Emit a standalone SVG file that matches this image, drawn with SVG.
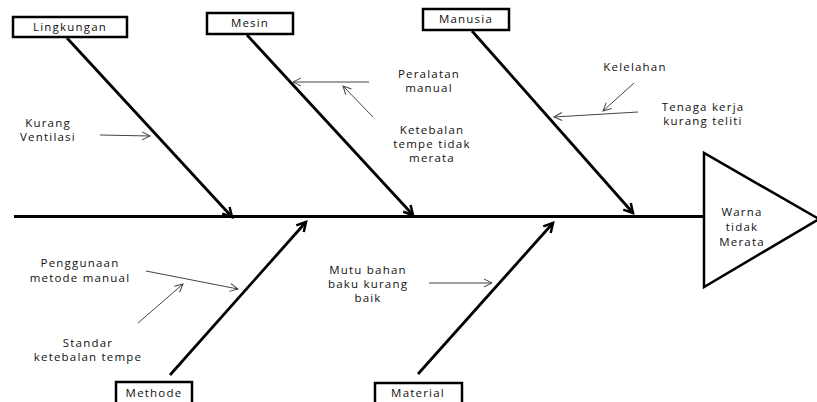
<svg xmlns="http://www.w3.org/2000/svg" width="817" height="402" viewBox="0 0 817 402">
<style>
.t{font-family:"Open Sans","Noto Sans",sans-serif;font-size:11.5px;letter-spacing:1.2px;fill:#111;text-anchor:middle}
.box{fill:#fff;stroke:#000;stroke-width:2.5}
.bone{stroke:#000;stroke-width:2.8;fill:none;marker-end:url(#hb)}
.thin{stroke:#444;stroke-width:1;fill:none;marker-end:url(#ht)}
</style>
<defs>
<marker id="hb" markerUnits="userSpaceOnUse" markerWidth="20" markerHeight="20" refX="0" refY="0" orient="auto" overflow="visible" viewBox="-12 -10 20 20">
<path d="M-9,-5 L0,0 L-9,5" fill="none" stroke="#000" stroke-width="2.5"/>
</marker>
<marker id="ht" markerUnits="userSpaceOnUse" markerWidth="20" markerHeight="20" refX="0" refY="0" orient="auto" overflow="visible" viewBox="-12 -10 20 20">
<path d="M-8,-4 L0,0 L-8,4" fill="none" stroke="#444" stroke-width="1"/>
</marker>
</defs>
<rect width="817" height="402" fill="#fff"/>
<g id="connectors">
<line x1="14" y1="216.5" x2="704" y2="216.5" stroke="#000" stroke-width="3"/>
<line class="bone" x1="67" y1="38" x2="232" y2="217"/>
<line class="bone" x1="247" y1="35" x2="413" y2="215"/>
<line class="bone" x1="472" y1="31" x2="633" y2="213"/>
<line class="bone" x1="170" y1="375" x2="306" y2="222"/>
<line class="bone" x1="418" y1="374" x2="553" y2="223"/>
<line class="thin" x1="100" y1="135" x2="150" y2="136"/>
<line class="thin" x1="369" y1="82" x2="293" y2="82"/>
<line class="thin" x1="373" y1="117" x2="343" y2="86"/>
<line class="thin" x1="634" y1="83" x2="603" y2="111"/>
<line class="thin" x1="638" y1="112" x2="554" y2="117"/>
<line class="thin" x1="146" y1="271" x2="238" y2="289"/>
<line class="thin" x1="138" y1="323" x2="183" y2="284"/>
<line class="thin" x1="429" y1="283" x2="492" y2="283"/>
</g>
<g id="effect">
<polygon points="704,153 704,287 819,219" fill="#fff" stroke="#000" stroke-width="2.5"/>
<text class="t" x="742" y="216">Warna<tspan x="742" dy="15">tidak</tspan><tspan x="742" dy="15">Merata</tspan></text>
</g>
<g id="lingkungan"><rect class="box" x="13" y="17" width="114" height="20"/><text class="t" x="70" y="31">Lingkungan</text></g>
<g id="mesin"><rect class="box" x="207" y="13" width="86" height="21"/><text class="t" x="250" y="27">Mesin</text></g>
<g id="manusia"><rect class="box" x="423" y="9" width="86" height="21"/><text class="t" x="466" y="23">Manusia</text></g>
<g id="methode"><rect class="box" x="116" y="382" width="76" height="24"/><text class="t" x="154" y="397">Methode</text></g>
<g id="material"><rect class="box" x="375" y="383" width="87" height="24"/><text class="t" x="418" y="397">Material</text></g>
<g id="kurang-ventilasi"><text class="t" x="48" y="127">Kurang<tspan x="48" dy="14">Ventilasi</tspan></text></g>
<g id="peralatan-manual"><text class="t" x="429" y="78">Peralatan<tspan x="429" dy="14">manual</tspan></text></g>
<g id="ketebalan"><text class="t" x="432" y="134">Ketebalan<tspan x="432" dy="14">tempe tidak</tspan><tspan x="432" dy="14">merata</tspan></text></g>
<g id="kelelahan"><text class="t" x="635" y="71">Kelelahan</text></g>
<g id="tenaga-kerja"><text class="t" x="703" y="111">Tenaga kerja<tspan x="703" dy="14">kurang teliti</tspan></text></g>
<g id="penggunaan"><text class="t" x="80" y="267">Penggunaan<tspan x="80" dy="15">metode manual</tspan></text></g>
<g id="standar"><text class="t" x="88" y="347">Standar<tspan x="88" dy="14">ketebalan tempe</tspan></text></g>
<g id="mutu"><text class="t" x="368" y="274">Mutu bahan<tspan x="368" dy="14">baku kurang</tspan><tspan x="368" dy="14">baik</tspan></text></g>
</svg>
